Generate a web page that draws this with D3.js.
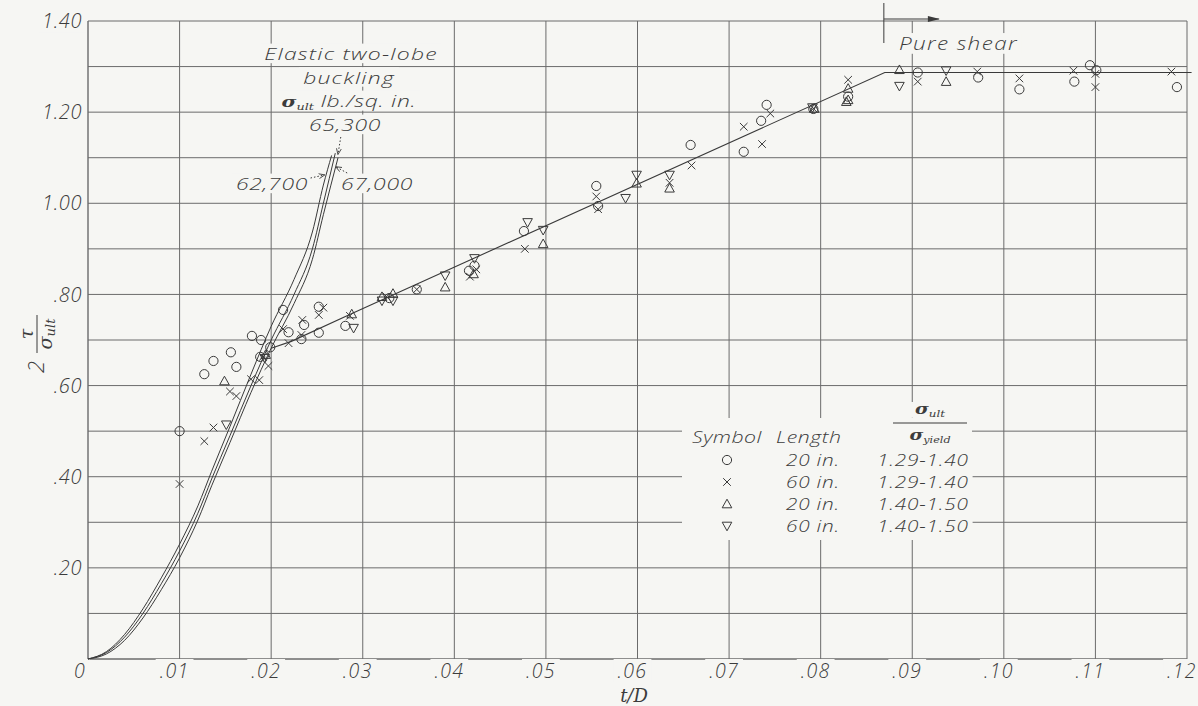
<!DOCTYPE html>
<html><head><meta charset="utf-8">
<script src="https://cdn.jsdelivr.net/npm/d3@7"></script>
<style>
html,body{margin:0;padding:0;background:#f6f6f3;}
svg{display:block;}
text{font-family:"Open Sans","DejaVu Sans",sans-serif;font-style:italic;font-weight:300;fill:#3c3c3c;}
.serif{font-family:"DejaVu Serif","Liberation Serif",serif;}
</style></head><body>
<svg id="chart" width="1198" height="706"></svg>
<script>
// ---- axis ticks ----
const xTickValues = [0, .01, .02, .03, .04, .05, .06, .07, .08, .09, .10, .11, .12];
const xTickLabels = ["0", ".01", ".02", ".03", ".04", ".05", ".06", ".07", ".08", ".09", ".10", ".11", ".12"];
const yTickValues = [.2, .4, .6, .8, 1.0, 1.2, 1.4];
const yTickLabels = [".20", ".40", ".60", ".80", "1.00", "1.20", "1.40"];
const yGridValues = [.1, .2, .3, .4, .5, .6, .7, .8, .9, 1.0, 1.1, 1.2, 1.3, 1.4];

// ---- test points: [t/D, 2τ/σult] ----
const circles20in = [
  [.0100,.500],[.0127,.625],[.0137,.654],[.0156,.673],[.0162,.641],[.0179,.709],
  [.0189,.700],[.0188,.663],[.0199,.684],[.0213,.766],[.0219,.717],[.0233,.702],
  [.0236,.733],[.0252,.716],[.0252,.773],[.0281,.731],[.0329,.792],[.0359,.811],
  [.0416,.852],[.0422,.863],[.0476,.939],[.0555,1.038],[.0557,.994],[.0658,1.128],
  [.0716,1.113],[.0735,1.181],[.0741,1.216],[.0792,1.207],[.0830,1.234],[.0906,1.287],
  [.0972,1.276],[.1017,1.250],[.1077,1.267],[.1094,1.303],[.1101,1.292],[.1189,1.255]
];
const crosses60in = [
  [.0100,.384],[.0127,.478],[.0137,.508],[.0155,.587],[.0162,.577],[.0178,.614],
  [.0187,.612],[.0191,.663],[.0197,.643],[.0213,.724],[.0219,.693],[.0234,.744],
  [.0233,.711],[.0252,.755],[.0257,.771],[.0286,.753],[.0326,.795],[.0359,.811],
  [.0417,.839],[.0424,.855],[.0477,.900],[.0555,1.015],[.0557,.987],[.0635,1.045],
  [.0659,1.083],[.0716,1.168],[.0736,1.130],[.0745,1.197],[.0792,1.208],[.0830,1.271],
  [.0906,1.267],[.0971,1.289],[.1017,1.274],[.1076,1.291],[.1100,1.284],[.1100,1.255],
  [.1183,1.289]
];
const trianglesUp20in = [
  [.0149,.610],[.0194,.668],[.0288,.757],[.0321,.795],[.0333,.802],[.0390,.816],
  [.0421,.845],[.0497,.911],[.0599,1.044],[.0635,1.033],[.0793,1.208],[.0828,1.223],
  [.0830,1.252],[.0830,1.227],[.0886,1.293],[.0937,1.267]
];
const trianglesDown60in = [
  [.0151,.514],[.0193,.660],[.0290,.726],[.0321,.786],[.0333,.786],[.0390,.841],
  [.0422,.879],[.0480,.958],[.0497,.941],[.0587,1.011],[.0599,1.062],[.0635,1.062],
  [.0791,1.210],[.0886,1.257],[.0937,1.291]
];

// ---- faired test curve ----
const meanCurve = [[.0200,.682],[.0222,.697],[.0290,.760],[.0870,1.287],[.1205,1.287]];

// ---- elastic two-lobe buckling curves, by σult (lb./sq. in.) ----
const elastic62700 = [[0,0],[.002,.016],[.004,.054],[.006,.110],[.008,.178],[.010,.252],[.012,.336],
  [.0135,.412],[.0155,.510],[.0178,.625],[.020,.730],[.0225,.833],[.0245,.937],[.0257,1.040],[.0266,1.105]];
const elastic65300 = [[0,0],[.002,.014],[.004,.048],[.006,.100],[.008,.165],[.010,.237],[.012,.320],
  [.0135,.395],[.0155,.490],[.0178,.600],[.020,.700],[.0225,.800],[.0245,.900],[.0257,1.000],[.0270,1.110]];
const elastic67000 = [[0,0],[.002,.011],[.004,.041],[.006,.090],[.008,.152],[.010,.222],[.012,.305],
  [.0135,.380],[.0155,.475],[.0178,.585],[.020,.682],[.0225,.780],[.0245,.877],[.0257,.975],[.0273,1.100]];

// ---- legend ----
const legendSymbols = ["circle", "cross", "triUp", "triDown"];
const legendLengths = ["20 in.", "60 in.", "20 in.", "60 in."];
const legendRatios = ["1.29-1.40", "1.29-1.40", "1.40-1.50", "1.40-1.50"];

const ink = "#3a3a3a", gridInk = "#6b6b6b", paper = "#f6f6f3";
const svg = d3.select("#chart");
svg.append("rect").attr("width", 1198).attr("height", 706).attr("fill", paper);

const x = d3.scaleLinear().domain([0, .12]).range([88, 1187]);
const y = d3.scaleLinear().domain([0, 1.4]).range([659, 21]);

const gGrid = svg.append("g");
const gMask = svg.append("g");
const gData = svg.append("g");
const gText = svg.append("g");

// grid
gGrid.selectAll("line.v").data(xTickValues).join("line")
  .attr("x1", d => x(d)).attr("x2", d => x(d)).attr("y1", y(0)).attr("y2", y(1.4))
  .attr("stroke", gridInk).attr("stroke-width", d => d === 0 ? 1.4 : 1);
gGrid.selectAll("line.h").data([0].concat(yGridValues)).join("line")
  .attr("x1", x(0)).attr("x2", x(.12)).attr("y1", d => y(d)).attr("y2", d => y(d))
  .attr("stroke", gridInk).attr("stroke-width", d => d === 0 ? 1.4 : 1);

// tick labels
gText.selectAll("text.xt").data(xTickValues).join("text")
  .attr("x", (d, i) => i === 0 ? x(d) - 8 : x(d) - 5).attr("y", 678)
  .attr("text-anchor", "middle").attr("font-size", 19.5).attr("letter-spacing", 1.3).text((d, i) => xTickLabels[i]);
gText.selectAll("text.yt").data(yTickValues).join("text")
  .attr("x", 82).attr("y", d => y(d)).attr("dy", "0.36em")
  .attr("text-anchor", "end").attr("font-size", 20).attr("letter-spacing", 0.6).text((d, i) => yTickLabels[i]);

// axis titles
gText.append("text").attr("class", "serif").attr("x", 634).attr("y", 702)
  .attr("text-anchor", "middle").attr("font-size", 18).text("t/D");
const yt = svg.append("g").attr("transform", "translate(37,334) rotate(-90)");
yt.append("line").attr("x1", -19).attr("x2", 19).attr("y1", 0).attr("y2", 0)
  .attr("stroke", ink).attr("stroke-width", 1);
yt.append("text").attr("class", "serif").attr("x", 0).attr("y", -4).attr("text-anchor", "middle")
  .attr("font-size", 19).text("τ");
const ys = yt.append("text").attr("class", "serif").attr("x", 0).attr("y", 15).attr("text-anchor", "middle").attr("font-size", 19);
ys.append("tspan").text("σ");
ys.append("tspan").attr("font-size", 13).attr("dy", 3).text("ult");
yt.append("text").attr("x", -33).attr("y", 7).attr("text-anchor", "middle").attr("font-size", 22).text("2");

// curves
const line = d3.line().x(d => x(d[0])).y(d => y(d[1]));
const smooth = d3.line().x(d => x(d[0])).y(d => y(d[1])).curve(d3.curveMonotoneX);
[elastic62700, elastic65300, elastic67000].forEach(c => {
  gData.append("path").attr("d", smooth(c)).attr("fill", "none").attr("stroke", ink).attr("stroke-width", 1);
});
gData.append("path").attr("d", line(meanCurve)).attr("fill", "none").attr("stroke", ink).attr("stroke-width", 1.1);

// markers
function marker(sel, kind, cx, cy) {
  const g = sel.append("g").attr("transform", `translate(${cx},${cy})`)
    .attr("fill", "none").attr("stroke", ink).attr("stroke-width", 1);
  if (kind === "circle") g.append("circle").attr("r", 4.6);
  if (kind === "cross") g.append("path").attr("d", "M-3.8,-3.8L3.8,3.8M-3.8,3.8L3.8,-3.8");
  if (kind === "triUp") g.append("path").attr("d", "M0,-4.8L4.8,3.8L-4.8,3.8Z");
  if (kind === "triDown") g.append("path").attr("d", "M0,4.8L4.8,-3.8L-4.8,-3.8Z");
}
circles20in.forEach(d => marker(gData, "circle", x(d[0]), y(d[1])));
crosses60in.forEach(d => marker(gData, "cross", x(d[0]), y(d[1])));
trianglesUp20in.forEach(d => marker(gData, "triUp", x(d[0]), y(d[1])));
trianglesDown60in.forEach(d => marker(gData, "triDown", x(d[0]), y(d[1])));

// wide drafting-style lettering: text stretched horizontally about its anchor
function label(cx, cy, txt, opts = {}) {
  const t = gText.append("text").attr("transform", `translate(${cx},${cy}) scale(${opts.stretch || 1.25},1)`)
    .attr("dy", "0.36em")
    .attr("text-anchor", opts.anchor || "middle").attr("font-size", opts.size || 17)
    .attr("letter-spacing", opts.ls == null ? 0.8 : opts.ls);
  if (typeof txt === "function") txt(t); else t.text(txt);
  return t;
}
function sigma(t, sub, rest) {
  t.append("tspan").attr("class", "serif").attr("font-weight", "bold").attr("font-size", 15).attr("letter-spacing", 0).text("σ");
  t.append("tspan").attr("class", "serif").attr("font-size", 9.5).attr("letter-spacing", 0).attr("dy", 3).text(sub);
  if (rest) t.append("tspan").attr("dy", -3).text(rest);
}

// elastic buckling note
const noteOpts = {size: 17, stretch: 1.35, ls: 0.9};
label(351, 54, "Elastic two-lobe", noteOpts);
label(349, 77.5, "buckling", noteOpts);
label(349, 101, t => sigma(t, "ult", " lb./sq. in."), {size: 17, stretch: 1.35, ls: 0.5});
label(345, 125, "65,300", {size: 17, stretch: 1.35, ls: 0.5});
label(272, 184, "62,700", {size: 17, stretch: 1.35, ls: 0.5});
label(377, 184, "67,000", {size: 17, stretch: 1.35, ls: 0.5});

// dotted leaders
svg.append("defs").append("marker").attr("id", "ah").attr("viewBox", "0 0 10 10")
  .attr("refX", 9).attr("refY", 5).attr("markerWidth", 6).attr("markerHeight", 6).attr("orient", "auto")
  .append("path").attr("d", "M0,1L10,5L0,9").attr("fill", "none").attr("stroke", ink).attr("stroke-width", 1.4);
const leaders = [
  [[x(.0276), 137], [x(.0273), 154]],
  [[x(.0243), 178], [x(.0258), 175]],
  [[x(.0283), 173], [x(.0271), 167]]
];
leaders.forEach(l => gData.append("path").attr("d", d3.line()(l)).attr("fill", "none")
  .attr("stroke", ink).attr("stroke-width", 1).attr("stroke-dasharray", "1.5,2").attr("marker-end", "url(#ah)"));

// pure shear range marker
const xs = x(.0869);
gData.append("line").attr("x1", xs).attr("x2", xs).attr("y1", 3).attr("y2", 43).attr("stroke", ink).attr("stroke-width", 1);
gData.append("line").attr("x1", xs).attr("x2", xs + 55).attr("y1", 19).attr("y2", 19).attr("stroke", ink).attr("stroke-width", 1);
gData.append("path").attr("d", `M${xs + 44},16L${xs + 56},19L${xs + 44},22Z`).attr("fill", ink);
label(899, 44, "Pure shear", {anchor: "start", size: 18, ls: 1.1});

// legend
gMask.append("rect").attr("x", 682).attr("y", 418).attr("width", 290).attr("height", 122).attr("fill", paper);
label(692, 437, "Symbol", {anchor: "start", ls: 0.4});
label(776, 437, "Length", {anchor: "start", ls: 0.4});
label(930, 408, t => { t.append("tspan").attr("class", "serif").attr("font-weight", "bold").attr("font-size", 15).text("σ");
  t.append("tspan").attr("class", "serif").attr("font-size", 9.5).attr("dy", 3).text("ult"); }, {ls: 0});
gText.append("line").attr("x1", 893).attr("x2", 967).attr("y1", 423).attr("y2", 423).attr("stroke", ink).attr("stroke-width", 1);
label(930, 434, t => { t.append("tspan").attr("class", "serif").attr("font-weight", "bold").attr("font-size", 15).text("σ");
  t.append("tspan").attr("class", "serif").attr("font-size", 9).attr("dy", 3).text("yield"); }, {ls: 0});
const rowY = [460, 482, 504, 526];
legendSymbols.forEach((k, i) => {
  marker(gText, k, 727, rowY[i]);
  label(786, rowY[i], legendLengths[i], {anchor: "start", size: 16, stretch: 1.3, ls: 0.6});
  label(877, rowY[i], legendRatios[i], {anchor: "start", size: 16, stretch: 1.3, ls: 0.6});
});

// break grid lines behind lettering
gText.selectAll("text").each(function () {
  const r = this.getBoundingClientRect();
  gMask.append("rect").attr("x", r.x - 4).attr("y", r.y + 2).attr("width", r.width + 8).attr("height", r.height - 4).attr("fill", paper);
});
</script>
</body></html>
